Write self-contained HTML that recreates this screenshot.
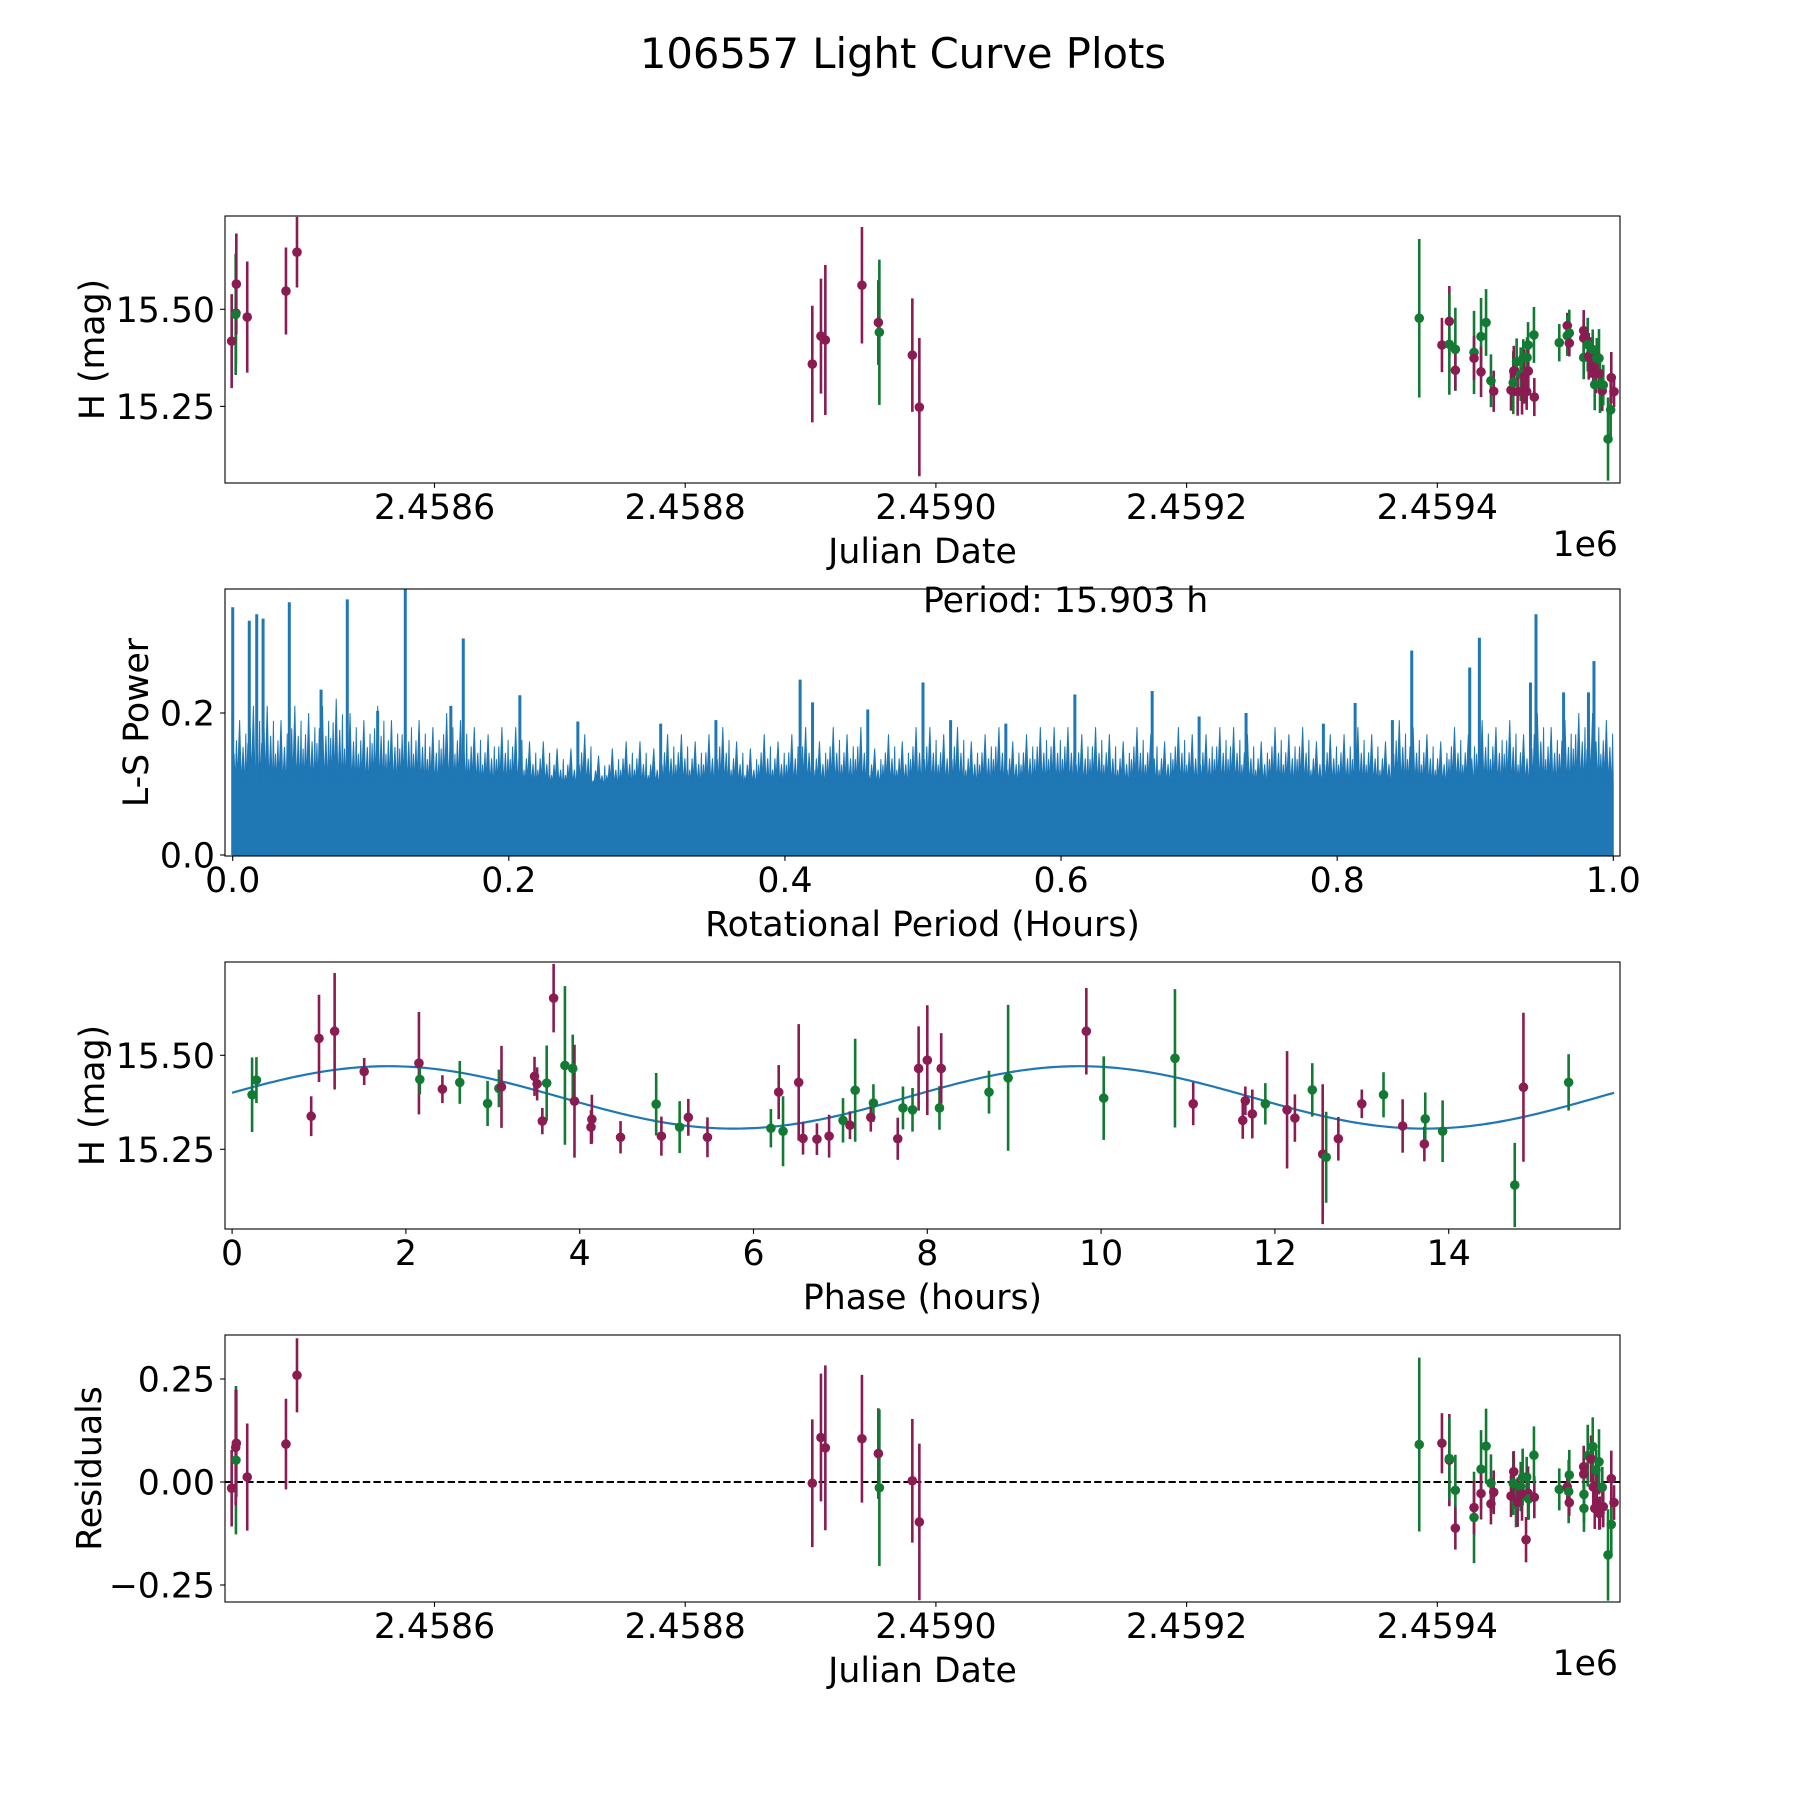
<!DOCTYPE html>
<html><head><meta charset="utf-8"><title>106557 Light Curve Plots</title>
<style>
html,body{margin:0;padding:0;background:#fff;}
svg{display:block;font-family:"DejaVu Sans","Liberation Sans",sans-serif;}
</style></head>
<body>
<svg id="fig" xmlns="http://www.w3.org/2000/svg" width="1800" height="1800" viewBox="0 0 1800 1800">
<rect x="0" y="0" width="1800" height="1800" fill="#fff"/>
<text x="903" y="68" font-size="41.7" text-anchor="middle">106557 Light Curve Plots</text>
</svg>
<script>
// ---------- DATA ----------
// Panel 1: light curve (JD, H mag, error, filter)
const lcJD = [2458438.2,2458441.6,2458441.4,2458441.9,2458450.6,2458481.5,2458490.3,
 2458901.4,2458908.3,2458911.8,2458941.0,2458954.1,2458954.9,2458981.2,2458986.8,
 2459385.6,2459403.7,2459409.6,2459409.6,2459414.4,2459414.4,2459429.3,2459429.3,2459434.9,2459434.9,
 2459438.9,2459442.8,2459445.0,2459458.8,2459460.6,2459461.0,2459463.3,2459464.1,2459466.5,2459467.6,
 2459468.6,2459469.4,2459471.3,2459471.6,2459472.4,2459472.6,2459477.4,2459477.1,2459497.3,2459503.7,
 2459503.7,2459505.3,2459505.3,2459516.8,2459516.8,2459516.8,2459520.0,2459520.8,2459522.4,2459524.0,
 2459524.4,2459525.6,2459526.6,2459527.2,2459529.0,2459529.2,2459529.8,2459531.6,2459532.4,2459536.2,
 2459538.3,2459538.8,2459541.0];
const lcMag = [15.418,15.490,15.487,15.565,15.480,15.547,15.647,
 15.359,15.431,15.421,15.562,15.466,15.441,15.382,15.248,
 15.477,15.408,15.469,15.410,15.397,15.343,15.389,15.374,15.430,15.339,
 15.466,15.316,15.289,15.292,15.311,15.341,15.365,15.288,15.333,15.289,
 15.376,15.327,15.288,15.376,15.408,15.341,15.274,15.434,15.414,15.458,
 15.432,15.439,15.413,15.445,15.426,15.376,15.409,15.379,15.376,15.396,
 15.352,15.306,15.336,15.374,15.374,15.335,15.306,15.290,15.305,15.166,
 15.241,15.324,15.288];
const lcErr = [0.121,0.13,0.156,0.13,0.143,0.112,0.091,
 0.15,0.148,0.193,0.15,0.109,0.187,0.146,0.178,
 0.204,0.07,0.091,0.13,0.107,0.052,0.107,0.057,0.099,0.065,
 0.086,0.068,0.053,0.053,0.081,0.065,0.06,0.062,0.069,0.06,
 0.047,0.07,0.047,0.052,0.059,0.056,0.049,0.072,0.048,0.033,
 0.052,0.06,0.034,0.053,0.047,0.056,0.069,0.06,0.052,0.052,
 0.056,0.066,0.052,0.052,0.075,0.052,0.073,0.052,0.052,0.107,
 0.082,0.066,0.04];
const lcBand = ['r','r','g','r','r','r','r',
 'r','r','r','r','r','g','r','r',
 'g','r','r','g','g','r','g','r','g','r',
 'g','g','r','r','g','r','g','r','g','r',
 'g','r','r','g','g','r','r','g','g','r',
 'g','g','r','r','r','g','g','r','r','g',
 'r','g','r','g','g','r','g','r','g','g',
 'g','r','r'];

// Panel 2: periodogram
const lsEnvelope = [0.19,0.21,0.21,0.19,0.21,0.20,0.21,0.22,0.20,0.19,
 0.21,0.19,0.20,0.19,0.18,0.20,0.19,0.18,0.17,0.18,
 0.18,0.16,0.16,0.15,0.15,0.17,0.14,0.15,0.16,0.16,
 0.15,0.17,0.17,0.16,0.17,0.18,0.16,0.15,0.17,0.16,
 0.17,0.18,0.16,0.18,0.17,0.18,0.15,0.17,0.16,0.18,
 0.18,0.17,0.18,0.16,0.17,0.18,0.16,0.17,0.18,0.18,
 0.18,0.17,0.18,0.17,0.16,0.18,0.17,0.16,0.18,0.17,
 0.17,0.18,0.18,0.17,0.16,0.18,0.17,0.18,0.16,0.17,
 0.17,0.18,0.17,0.16,0.19,0.18,0.17,0.16,0.18,0.17,
 0.19,0.18,0.19,0.17,0.20,0.18,0.19,0.20,0.20,0.19];
const lsFloor = 0.095;
const spikeFreq = [0.0,0.012,0.0174,0.022,0.041,0.064,0.083,0.105,0.125,0.158,0.167,0.208,0.25,0.31,0.35,0.411,0.42,0.46,0.5,0.52,0.56,0.61,0.666,0.7,0.734,0.79,0.813,0.84,0.854,0.896,0.903,0.94,0.944,0.964,0.982,0.986];
const spikePower = [0.349,0.33,0.339,0.333,0.356,0.233,0.36,0.203,0.38,0.21,0.305,0.225,0.188,0.185,0.19,0.247,0.215,0.205,0.243,0.19,0.185,0.226,0.231,0.195,0.20,0.185,0.214,0.19,0.288,0.264,0.306,0.243,0.339,0.229,0.229,0.273];
const periodLabel = "Period: 15.903 h";

// Panel 3: phased curve
const phHours = [0.23,0.28,0.91,1.0,1.18,1.52,2.15,2.16,2.42,2.62,2.94,3.07,3.1,3.48,3.51,3.57,3.62,3.70,3.83,3.92,3.94,4.13,4.14,4.47,4.88,4.94,5.15,5.25,5.47,
 6.2,6.29,6.34,6.52,6.57,6.73,6.87,7.03,7.11,7.17,7.35,7.38,
 7.66,7.72,7.83,7.9,8.0,8.14,8.16,8.71,8.93,9.83,10.03,10.85,11.06,11.63,11.66,11.74,11.89,12.14,12.23,12.43,12.55,12.59,12.73,13.0,13.25,13.47,13.72,13.73,13.93,14.76,14.86,15.38];
const phMag = [15.395,15.434,15.338,15.545,15.564,15.457,15.479,15.436,15.41,15.428,15.372,15.412,15.416,15.444,15.424,15.325,15.426,15.652,15.473,15.465,15.378,15.309,15.33,15.282,15.37,15.285,15.309,15.335,15.282,
 15.306,15.402,15.298,15.428,15.279,15.277,15.285,15.327,15.314,15.407,15.335,15.373,
 15.278,15.36,15.355,15.465,15.487,15.36,15.465,15.402,15.44,15.564,15.386,15.492,15.371,15.327,15.379,15.344,15.371,15.355,15.333,15.408,15.237,15.229,15.278,15.371,15.395,15.312,15.264,15.331,15.298,15.155,15.415,15.428];
const phErr = [0.099,0.061,0.053,0.116,0.155,0.036,0.136,0.04,0.037,0.057,0.06,0.05,0.109,0.052,0.044,0.035,0.1,0.091,0.211,0.09,0.15,0.045,0.065,0.043,0.083,0.052,0.069,0.049,0.053,
 0.051,0.072,0.093,0.155,0.043,0.042,0.057,0.059,0.037,0.137,0.038,0.05,
 0.056,0.057,0.058,0.112,0.146,0.058,0.094,0.057,0.194,0.115,0.111,0.184,0.057,0.049,0.038,0.065,0.055,0.156,0.063,0.071,0.186,0.121,0.058,0.038,0.06,0.071,0.046,0.07,0.082,0.112,0.198,0.075];
const phBand = ['g','g','r','r','r','r','r','g','r','g','g','g','r','r','r','r','g','r','g','g','r','r','r','r','g','r','g','r','r',
 'g','r','g','r','r','r','r','g','r','g','r','g',
 'r','g','g','r','r','g','r','g','g','r','g','g','r','r','r','r','g','r','r','g','r','g','r','r','g','r','r','g','g','g','r','g'];
const fitParams = [15.388, 0.083, 1.8, 7.9515]; // mean, amplitude, peak phase, half-period

// Panel 4: residuals
const resJD = [2458438.2,2458441.6,2458441.4,2458441.9,2458450.6,2458481.5,2458490.3,
 2458901.4,2458908.3,2458911.8,2458941.0,2458954.1,2458954.9,2458981.2,2458986.8,
 2459385.6,2459403.7,2459409.6,2459409.6,2459414.4,2459414.4,2459429.3,2459429.3,2459434.9,2459434.9,
 2459438.9,2459442.8,2459442.8,2459445.0,2459458.8,2459460.6,2459461.0,2459462.8,2459464.1,2459466.5,
 2459467.6,2459468.1,2459470.8,2459471.3,2459472.4,2459472.9,2459477.4,2459477.1,2459497.3,2459503.7,
 2459504.8,2459505.3,2459505.3,2459516.8,2459516.8,2459517.0,2459517.0,2459520.0,2459522.6,2459524.0,
 2459524.4,2459525.6,2459526.6,2459527.2,2459529.0,2459529.2,2459529.8,2459531.6,2459532.4,2459536.2,
 2459538.8,2459538.8,2459541.0];
const resVal = [-0.015,0.053,0.084,0.094,0.012,0.092,0.259,
 -0.003,0.108,0.083,0.105,0.069,-0.014,0.003,-0.097,
 0.091,0.094,0.053,0.057,-0.02,-0.112,-0.086,-0.062,0.031,-0.028,
 0.087,-0.003,-0.053,-0.025,-0.034,-0.003,0.025,-0.053,-0.049,-0.011,
 -0.029,0.012,-0.14,0.012,-0.027,-0.041,-0.037,0.065,-0.018,-0.012,
 -0.023,0.017,-0.05,0.037,0.019,-0.03,-0.064,0.064,0.056,0.086,
 -0.012,-0.064,0.029,-0.019,0.049,-0.076,-0.075,-0.013,-0.06,-0.177,
 -0.103,0.008,-0.05];
const resErr = [0.093,0.18,0.14,0.13,0.13,0.11,0.09,
 0.155,0.155,0.2,0.155,0.11,0.19,0.15,0.19,
 0.211,0.073,0.112,0.10,0.086,0.052,0.111,0.065,0.095,0.063,
 0.091,0.07,0.05,0.053,0.051,0.077,0.05,0.057,0.06,0.06,
 0.065,0.069,0.055,0.049,0.065,0.05,0.051,0.07,0.051,0.032,
 0.077,0.061,0.032,0.051,0.05,0.069,0.057,0.075,0.057,0.071,
 0.05,0.05,0.05,0.05,0.079,0.04,0.04,0.05,0.05,0.111,
 0.079,0.068,0.042];
const resBand = ['r','g','r','r','r','r','r',
 'r','r','r','r','r','g','r','r',
 'g','r','r','g','g','r','g','r','g','r',
 'g','g','r','r','r','g','r','g','r','g',
 'r','g','r','g','r','g','r','g','g','r',
 'g','g','r','r','r','g','g','g','r','g',
 'r','r','g','r','g','r','r','g','r','g',
 'g','r','r'];

const jdTicks = [2458600,2458800,2459000,2459200,2459400];
const jdTickLabels = ['2.4586','2.4588','2.4590','2.4592','2.4594'];
const magTicks = [15.25,15.50];
const magTickLabels = ['15.25','15.50'];
const freqTicks = [0,0.2,0.4,0.6,0.8,1.0];
const freqTickLabels = ['0.0','0.2','0.4','0.6','0.8','1.0'];
const powTicks = [0,0.2];
const powTickLabels = ['0.0','0.2'];
const phaseTicks = [0,2,4,6,8,10,12,14];
const phaseTickLabels = ['0','2','4','6','8','10','12','14'];
const resTicks = [-0.25,0,0.25];
const resTickLabels = ['\u22120.25','0.00','0.25'];

// ---------- RENDER ----------
const NS = 'http://www.w3.org/2000/svg';
const svg = document.getElementById('fig');
const COL = {r:'#8a1c52', g:'#127a33'};
const FS = 34.7;
function mk(tag, attrs, parent){
  const e = document.createElementNS(NS, tag);
  for (const k in attrs) e.setAttribute(k, attrs[k]);
  (parent||svg).appendChild(e);
  return e;
}
function lin(d0,d1,r0,r1){ return v => r0 + (v-d0)*(r1-r0)/(d1-d0); }

const L = 225, R = 1620;
const panels = [[216,483],[589,856],[962,1229],[1335,1602]];

function axesFrame(i, name){
  const [t,b] = panels[i];
  const g = mk('g',{});
  
  
  const cp = mk('clipPath',{id:'clip'+i}, g);
  mk('rect',{x:L,y:t,width:R-L,height:b-t}, cp);
  const plot = mk('g',{'clip-path':'url(#clip'+i+')'}, g);
  return {g, plot, t, b};
}
function drawFrame(ax){
  const f = mk('rect',{x:L,y:ax.t,width:R-L,height:ax.b-ax.t,fill:'none',stroke:'#000','stroke-width':1.1}, ax.g);
  
  
}
function xTicks(ax, ticks, labels, sx, nm){
  ticks.forEach((v,k)=>{
    const x = sx(v);
    mk('line',{x1:x,x2:x,y1:ax.b,y2:ax.b+4.9,stroke:'#000','stroke-width':1.1}, ax.g);
    const tx = mk('text',{x:x,y:ax.b+36,'font-size':FS,'text-anchor':'middle'}, ax.g);
    
    
    tx.textContent = labels[k];
  });
}
function yTicks(ax, ticks, labels, sy, nm){
  ticks.forEach((v,k)=>{
    const y = sy(v);
    mk('line',{x1:L-4.9,x2:L,y1:y,y2:y,stroke:'#000','stroke-width':1.1}, ax.g);
    const tx = mk('text',{x:L-10,y:y+12.5,'font-size':FS,'text-anchor':'end'}, ax.g);
    
    
    tx.textContent = labels[k];
  });
}
function xLabel(ax, txt, nm){
  const t = mk('text',{x:(L+R)/2,y:ax.b+80,'font-size':FS,'text-anchor':'middle'}, ax.g);
  
  
  t.textContent = txt;
}
function yLabel(ax, txt, cx, nm){
  const cy = (ax.t+ax.b)/2;
  const t = mk('text',{x:cx,y:cy,'font-size':FS,'text-anchor':'middle','dominant-baseline':'central',transform:'rotate(-90 '+cx+' '+cy+')'}, ax.g);
  
  
  t.textContent = txt;
}
function errPoints(ax, xs, ys, es, bands, sx, sy, nm){
  xs.forEach((xv,k)=>{
    const x = sx(xv), c = COL[bands[k]];
    const ln = mk('line',{x1:x,x2:x,y1:sy(ys[k]-es[k]),y2:sy(ys[k]+es[k]),stroke:c,'stroke-width':2.6}, ax.plot);
    
    
  });
  xs.forEach((xv,k)=>{
    const c = COL[bands[k]];
    const p = mk('circle',{cx:sx(xv),cy:sy(ys[k]),r:4.8,fill:c}, ax.plot);
    
    
  });
}

// Panel 1
{
  const ax = axesFrame(0,'light-curve-panel');
  const sx = lin(2458600,2459400,434.5,1437.3);
  const sy = lin(15.25,15.50,406.4,309.3);
  errPoints(ax, lcJD, lcMag, lcErr, lcBand, sx, sy, 'magnitude');
  drawFrame(ax);
  xTicks(ax, jdTicks, jdTickLabels, sx, 'julian-date');
  yTicks(ax, magTicks, magTickLabels, sy, 'magnitude');
  xLabel(ax,'Julian Date','x-axis-title');
  yLabel(ax,'H (mag)',93,'y-axis-title');
  const o = mk('text',{x:R-2,y:ax.b+73,'font-size':FS,'text-anchor':'end'}, ax.g);
  
  
  o.textContent='1e6';
}
// Panel 2
{
  const ax = axesFrame(1,'periodogram-panel');
  const sx = lin(0,1,232.7,1613.3);
  const sy = lin(0,0.2,855,713);
  const n = lsEnvelope.length;
  let d = 'M'+sx(0)+','+sy(0);
  lsEnvelope.forEach((v,k)=>{
    const c = (k+0.5)/n, w = 0.5/n;
    d += ' L'+sx(c-w)+','+sy(lsFloor)+' L'+sx(c-w*0.8)+','+sy(v*0.75)+' L'+sx(c-w*0.65)+','+sy(lsFloor+0.005)+' L'+sx(c-w*0.45)+','+sy(v*0.85)+' L'+sx(c-w*0.3)+','+sy(lsFloor+0.01)+' L'+sx(c)+','+sy(v)+' L'+sx(c+w*0.25)+','+sy(lsFloor+0.005)+' L'+sx(c+w*0.5)+','+sy(v*0.8)+' L'+sx(c+w*0.75)+','+sy(lsFloor)+' L'+sx(c+w*0.9)+','+sy(v*0.9);
  });
  d += ' L'+sx(1)+','+sy(lsFloor)+' L'+sx(1)+','+sy(0)+' Z';
  const a = mk('path',{d:d,fill:'#1f77b4',stroke:'#1f77b4','stroke-width':1}, ax.plot);
  
  
  spikeFreq.forEach((f,k)=>{
    const s = mk('line',{x1:sx(f),x2:sx(f),y1:sy(0),y2:sy(spikePower[k]),stroke:'#1f77b4','stroke-width':3}, ax.plot);
    
    
  });
  drawFrame(ax);
  xTicks(ax, freqTicks, freqTickLabels, sx, 'period');
  yTicks(ax, powTicks, powTickLabels, sy, 'power');
  xLabel(ax,'Rotational Period (Hours)','x-axis-title');
  yLabel(ax,'L-S Power',137,'y-axis-title');
  const pt = mk('text',{x:sx(0.5),y:612,'font-size':FS,'text-anchor':'start'}, ax.g);
  
  
  pt.textContent = periodLabel;
}
// Panel 3
{
  const ax = axesFrame(2,'phased-curve-panel');
  const sx = lin(0,14,232.1,1448.7);
  const sy = lin(15.25,15.50,1149.3,1055.3);
  const [m,a,p0,per] = fitParams;
  let d = '';
  for (let i=0;i<=400;i++){
    const ph = 15.903*i/400;
    const y = m + a*Math.cos(2*Math.PI*(ph-p0)/per);
    d += (i?' L':'M')+sx(ph).toFixed(2)+','+sy(y).toFixed(2);
  }
  const c = mk('path',{d:d,fill:'none',stroke:'#1f77b4','stroke-width':2.2}, ax.plot);
  
  
  errPoints(ax, phHours, phMag, phErr, phBand, sx, sy, 'phased-magnitude');
  drawFrame(ax);
  xTicks(ax, phaseTicks, phaseTickLabels, sx, 'phase');
  yTicks(ax, magTicks, magTickLabels, sy, 'magnitude');
  xLabel(ax,'Phase (hours)','x-axis-title');
  yLabel(ax,'H (mag)',93,'y-axis-title');
}
// Panel 4
{
  const ax = axesFrame(3,'residuals-panel');
  const sx = lin(2458600,2459400,434.5,1437.3);
  const sy = lin(0,0.25,1482,1379);
  const z = mk('line',{x1:L,x2:R,y1:sy(0),y2:sy(0),stroke:'#000','stroke-width':2,'stroke-dasharray':'7.4,3.2'}, ax.plot);
  
  
  errPoints(ax, resJD, resVal, resErr, resBand, sx, sy, 'residual');
  drawFrame(ax);
  xTicks(ax, jdTicks, jdTickLabels, sx, 'julian-date');
  yTicks(ax, resTicks, resTickLabels, sy, 'residual');
  xLabel(ax,'Julian Date','x-axis-title');
  yLabel(ax,'Residuals',90,'y-axis-title');
  const o = mk('text',{x:R-2,y:ax.b+73,'font-size':FS,'text-anchor':'end'}, ax.g);
  
  
  o.textContent='1e6';
}
</script>
</body></html>
